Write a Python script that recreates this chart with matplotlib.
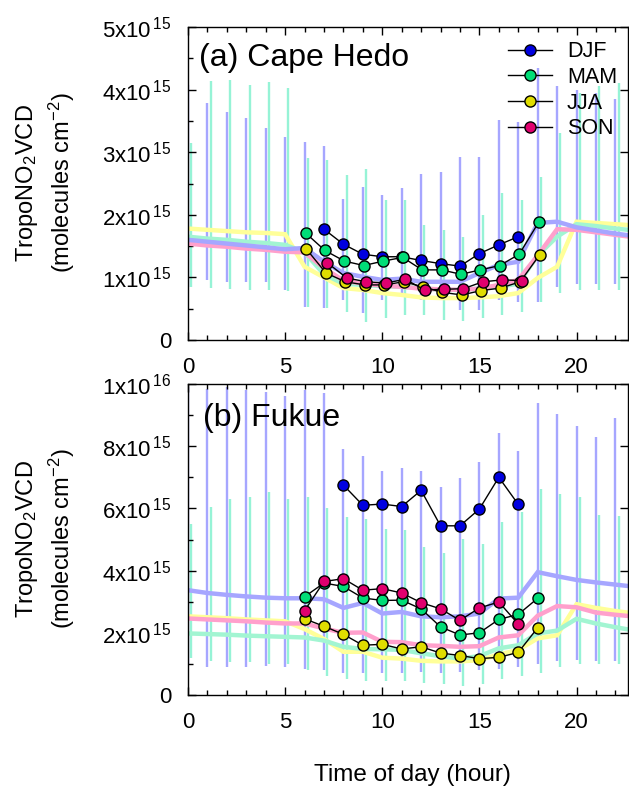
import matplotlib
matplotlib.use('Agg')
import matplotlib.pyplot as plt
import numpy as np

plt.rcParams['font.family'] = ['Liberation Sans', 'DejaVu Sans']
plt.rcParams['mathtext.fontset'] = 'custom'
plt.rcParams['mathtext.rm'] = 'Liberation Sans'
plt.rcParams['mathtext.it'] = 'Liberation Sans:italic'

seasons = ['DJF', 'MAM', 'JJA', 'SON']
hours = np.arange(24)

# ---- (a) Cape Hedo, units of 1e15 molecules cm-2 ----
line_a = {
    'DJF': [1.60, 1.57, 1.54, 1.51, 1.48, 1.45, 1.47, 1.25, 1.07, 1.01, 0.96, 0.98,
            0.93, 0.93, 0.93, 1.07, 1.20, 1.25, 1.87, 1.89, 1.80, 1.75, 1.70, 1.66],
    'MAM': [1.65, 1.62, 1.60, 1.57, 1.55, 1.52, 1.40, 1.05, 0.90, 0.88, 0.86, 0.85,
            0.83, 0.80, 0.80, 0.82, 0.85, 0.90, 1.35, 1.65, 1.85, 1.82, 1.78, 1.75],
    'JJA': [1.78, 1.76, 1.74, 1.72, 1.71, 1.69, 1.17, 1.00, 0.83, 0.80, 0.75, 0.72,
            0.68, 0.67, 0.67, 0.68, 0.70, 0.75, 0.99, 1.17, 1.89, 1.87, 1.85, 1.83],
    'SON': [1.54, 1.51, 1.49, 1.46, 1.44, 1.41, 1.40, 1.15, 0.95, 0.90, 0.87, 0.85,
            0.82, 0.81, 0.80, 0.82, 0.88, 0.96, 1.35, 1.77, 1.76, 1.72, 1.68, 1.64],
}
bar_hi_a = {
    'DJF': [4.07, 3.79, 3.65, 3.55, 3.38, 3.25, 3.17, 3.10, 2.26, 2.44, 2.32, 2.43,
            2.65, 2.69, 2.93, 2.93, 3.51, 3.49, 4.35, 4.05, 4.00, 3.95, 3.85, 3.80],
    'MAM': [3.15, 4.13, 4.15, 4.07, 4.12, 4.02, 2.90, 2.87, 2.64, 2.73, 2.24, 2.24,
            1.84, 1.76, 1.65, 2.00, 2.35, 2.24, 2.60, 3.30, 3.95, 4.05, 4.10, 4.10],
}
bar_lo_a = {
    'DJF': [0.85, 0.96, 0.93, 0.93, 0.93, 0.80, 0.53, 0.51, 0.64, 0.43, 0.64, 0.69,
            0.64, 0.64, 0.48, 0.48, 0.64, 0.60, 0.60, 0.85, 0.90, 0.90, 0.90, 0.90],
    'MAM': [0.85, 0.83, 0.82, 0.80, 0.80, 0.79, 0.53, 0.51, 0.45, 0.29, 0.35, 0.40,
            0.40, 0.32, 0.30, 0.35, 0.40, 0.45, 0.60, 0.75, 0.80, 0.80, 0.80, 0.80],
}
obs_hours_a = {'DJF': np.arange(7, 18), 'MAM': np.arange(6, 19),
               'JJA': np.arange(6, 19), 'SON': np.arange(7, 18)}
obs_a = {
    'DJF': [1.77, 1.53, 1.37, 1.33, 1.33, 1.27, 1.22, 1.18, 1.38, 1.52, 1.65],
    'MAM': [1.71, 1.43, 1.26, 1.19, 1.26, 1.32, 1.12, 1.12, 1.05, 1.12, 1.19, 1.37, 1.88],
    'JJA': [1.45, 1.07, 0.93, 0.88, 0.88, 0.93, 0.85, 0.76, 0.72, 0.79, 0.83, 0.93, 1.36],
    'SON': [1.23, 0.99, 0.93, 0.91, 0.97, 0.80, 0.81, 0.82, 0.93, 0.96, 0.95],
}

# ---- (b) Fukue ----
line_b = {
    'DJF': [3.37, 3.28, 3.22, 3.17, 3.13, 3.11, 3.11, 3.08, 2.80, 2.96, 2.62, 2.67,
            2.53, 2.50, 2.53, 2.62, 3.10, 3.13, 3.95, 3.82, 3.70, 3.62, 3.55, 3.48],
    'MAM': [1.98, 1.96, 1.94, 1.91, 1.89, 1.87, 1.85, 1.75, 1.55, 1.48, 1.47, 1.45,
            1.34, 1.25, 1.17, 1.25, 1.50, 1.60, 1.98, 2.07, 2.45, 2.30, 2.18, 2.07],
    'JJA': [2.53, 2.50, 2.47, 2.43, 2.40, 2.37, 2.12, 1.80, 1.39, 1.39, 1.20, 1.17,
            1.10, 1.08, 1.08, 1.12, 1.30, 1.45, 1.82, 1.92, 2.92, 2.80, 2.70, 2.62],
    'SON': [2.46, 2.43, 2.40, 2.37, 2.33, 2.30, 2.30, 2.14, 2.00, 2.01, 1.71, 1.70,
            1.60, 1.58, 1.55, 1.57, 1.85, 1.92, 2.55, 2.86, 2.82, 2.65, 2.58, 2.52],
}
bar_hi_b = {
    'DJF': [9.90, 9.84, 9.90, 9.80, 9.73, 9.60, 9.80, 9.70, 7.90, 7.69, 7.21, 7.30,
            7.21, 6.68, 6.97, 7.50, 8.44, 7.86, 9.40, 9.05, 8.65, 8.28, 8.90, 8.50],
    'MAM': [5.50, 6.04, 6.30, 6.36, 6.52, 6.30, 6.36, 6.00, 5.71, 5.66, 5.35, 5.30,
            4.75, 4.55, 5.03, 4.87, 5.55, 5.90, 6.63, 6.47, 6.36, 5.80, 5.75, 5.70],
}
bar_lo_b = {
    'DJF': [0.95, 0.91, 0.90, 0.90, 0.92, 0.90, 0.85, 0.80, 0.72, 0.70, 0.70, 0.72,
            0.75, 0.70, 0.75, 0.80, 0.85, 0.90, 1.00, 1.10, 1.12, 1.10, 1.10, 1.10],
    'MAM': [1.20, 1.10, 1.05, 1.05, 1.00, 1.00, 0.80, 0.60, 0.50, 0.45, 0.45, 0.45,
            0.40, 0.35, 0.30, 0.35, 0.50, 0.60, 0.70, 0.90, 1.00, 1.00, 1.00, 1.00],
}
obs_hours_b = {'DJF': np.arange(8, 18), 'MAM': np.arange(6, 19),
               'JJA': np.arange(6, 19), 'SON': np.arange(6, 18)}
obs_b = {
    'DJF': [6.75, 6.10, 6.14, 6.06, 6.58, 5.44, 5.44, 5.98, 7.00, 6.13],
    'MAM': [3.16, 3.60, 3.49, 3.12, 3.04, 3.05, 2.77, 2.19, 1.93, 2.00, 2.43, 2.59, 3.11],
    'JJA': [2.45, 2.21, 1.95, 1.60, 1.63, 1.48, 1.55, 1.35, 1.27, 1.17, 1.21, 1.37, 2.16],
    'SON': [2.71, 3.65, 3.74, 3.37, 3.42, 3.28, 2.97, 2.77, 2.40, 2.80, 2.99, 2.28],
}

yticks_a = [0, 1, 2, 3, 4, 5]
ylabels_a = ['0', '1x10$^{\\,15}$', '2x10$^{\\,15}$', '3x10$^{\\,15}$',
             '4x10$^{\\,15}$', '5x10$^{\\,15}$']
yticks_b = [0, 2, 4, 6, 8, 10]
ylabels_b = ['0', '2x10$^{\\,15}$', '4x10$^{\\,15}$', '6x10$^{\\,15}$',
             '8x10$^{\\,15}$', '1x10$^{\\,16}$']

bar_col = {'DJF': '#a6a6ff', 'MAM': '#96f3d6'}
bar_off = {'DJF': 0.0, 'MAM': 0.17}
line_col = {'DJF': '#a6a6ff', 'MAM': '#a2f5d2', 'JJA': '#ffff99', 'SON': '#ffa0cc'}
mark_col = {'DJF': '#0000e0', 'MAM': '#00dd77', 'JJA': '#e0dd00', 'SON': '#e0006e'}
mark_off = {'DJF': 0.0, 'MAM': 0.05, 'JJA': 0.1, 'SON': 0.18}


def draw_panel(ax, line, hi, lo, oh, obs, yt, ylab, ymax, offs):
    for s in ['DJF', 'MAM']:
        ax.vlines(hours + bar_off[s], lo[s], hi[s], color=bar_col[s], lw=1.7, zorder=1)
    for s in ['JJA', 'MAM', 'SON', 'DJF']:
        ax.plot(hours, line[s], color=line_col[s], lw=3.2, zorder=2,
                solid_joinstyle='miter')
    for s in seasons:
        ax.plot(oh[s] + (mark_off[s] if offs else 0), obs[s], '-o', color='black', lw=1,
                mfc=mark_col[s], mec='black', mew=1, ms=8, zorder=3, label=s)
    ax.set_xlim(0, 22.65)
    ax.set_ylim(0, ymax)
    ax.set_xticks([0, 5, 10, 15, 20])
    ax.set_xticks(np.arange(0, 23), minor=True)
    ax.set_yticks(yt)
    ax.set_yticklabels(ylab)
    ax.set_yticks(np.arange(0, ymax, ymax / 10.0), minor=True)
    ax.tick_params(which='both', direction='in', top=True, right=True,
                   labelsize=16, width=1)
    ax.tick_params(which='major', length=6, pad=12)
    ax.tick_params(which='minor', length=3.5)
    ax.tick_params(axis='y', which='minor', right=False)
    for sp in ax.spines.values():
        sp.set_linewidth(1)


fig = plt.figure(figsize=(6.29, 7.90), dpi=100)
ax1 = fig.add_axes([188 / 629, 1 - 340 / 790, 440 / 629, 313 / 790])
ax2 = fig.add_axes([188 / 629, 1 - 695 / 790, 440 / 629, 311 / 790])

draw_panel(ax1, line_a, bar_hi_a, bar_lo_a, obs_hours_a, obs_a, yticks_a, ylabels_a, 5, True)
draw_panel(ax2, line_b, bar_hi_b, bar_lo_b, obs_hours_b, obs_b, yticks_b, ylabels_b, 10, False)

ax1.text(0.025, 0.90, '(a) Cape Hedo', transform=ax1.transAxes, fontsize=23,
         ha='left', va='center')
ax2.text(0.035, 0.89, '(b) Fukue', transform=ax2.transAxes, fontsize=23,
         ha='left', va='center')

ax1.legend(loc='upper left', bbox_to_anchor=(0.727, 0.955), frameon=False,
           fontsize=15.5, handlelength=2.05, handletextpad=0.7, labelspacing=0.22,
           borderpad=0, borderaxespad=0)

for yc in [183, 539]:
    fig.text(27 / 629, 1 - yc / 790, 'TropoNO$_2$VCD', rotation=90,
             ha='center', va='center', fontsize=17)
    fig.text(62 / 629, 1 - yc / 790, '(molecules cm$^{-2}$)', rotation=90,
             ha='center', va='center', fontsize=17)

fig.text(412 / 629, 1 - 775 / 790, 'Time of day (hour)', ha='center', va='center',
         fontsize=17.5)

fig.savefig('out.png', dpi=100)
